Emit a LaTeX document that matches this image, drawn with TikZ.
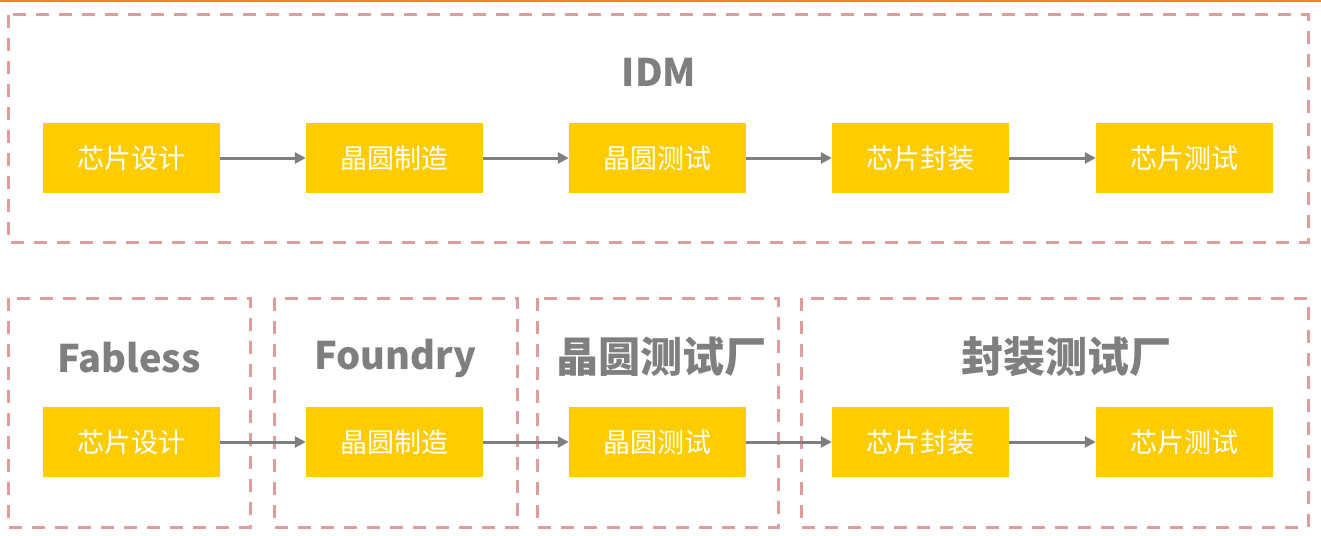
\documentclass[tikz,border=0pt]{standalone}
\usepackage{fontspec}
\setmainfont{Noto Sans CJK SC}
\usetikzlibrary{arrows.meta}
\definecolor{boxy}{HTML}{FFCC00}
\definecolor{dashc}{HTML}{DE9E9E}
\definecolor{grayt}{HTML}{7F7F7F}
\definecolor{orng}{HTML}{ED7D31}
\begin{document}
\begin{tikzpicture}[x=1pt,y=-1pt,
  stepbox/.style={fill=boxy, minimum width=177pt, minimum height=70pt, inner sep=0pt, text=white, font=\fontsize{27}{27}\selectfont},
  group/.style={draw=dashc, line width=3pt, dash pattern=on 13pt off 10pt},
  flow/.style={draw=grayt, line width=3pt, -{Triangle[length=11pt,width=11pt]}},
  title/.style={text=grayt, inner sep=0pt, font=\fontsize{38}{38}\selectfont\bfseries},
  cjktitle/.style={title, font=\fontsize{42}{42}\selectfont\bfseries}]
\useasboundingbox[fill=white] (0,0) rectangle (1321,535);
\draw[orng, line width=2pt] (0,1) -- (1321,1);
% group frames
\draw[group] (8,15) rectangle (1308,242);
\draw[group] (8,298) rectangle (250,527);
\draw[group] (274,298) rectangle (517,527);
\draw[group] (537,298) rectangle (778,527);
\draw[group] (801,298) rectangle (1308,527);
% titles
\node[title] (tidm) at (659,72) {IDM};
\node[title] (tfab) at (129,358) {Fabless};
\node[title] (tfou) at (395,358) {Foundry};
\node[cjktitle] (twt) at (661,357) {晶圆测试厂};
\node[cjktitle] (tpt) at (1066,357) {封装测试厂};
% top row
\node[stepbox] (a1) at (131.5,158) {芯片设计};
\node[stepbox] (a2) at (394.5,158) {晶圆制造};
\node[stepbox] (a3) at (657.5,158) {晶圆测试};
\node[stepbox] (a4) at (920.5,158) {芯片封装};
\node[stepbox] (a5) at (1184.5,158) {芯片测试};
\draw[flow] (a1) -- (a2);
\draw[flow] (a2) -- (a3);
\draw[flow] (a3) -- (a4);
\draw[flow] (a4) -- (a5);
% bottom row
\node[stepbox] (b1) at (131.5,442) {芯片设计};
\node[stepbox] (b2) at (394.5,442) {晶圆制造};
\node[stepbox] (b3) at (657.5,442) {晶圆测试};
\node[stepbox] (b4) at (920.5,442) {芯片封装};
\node[stepbox] (b5) at (1184.5,442) {芯片测试};
\draw[flow] (b1) -- (b2);
\draw[flow] (b2) -- (b3);
\draw[flow] (b3) -- (b4);
\draw[flow] (b4) -- (b5);
\end{tikzpicture}
\end{document}
